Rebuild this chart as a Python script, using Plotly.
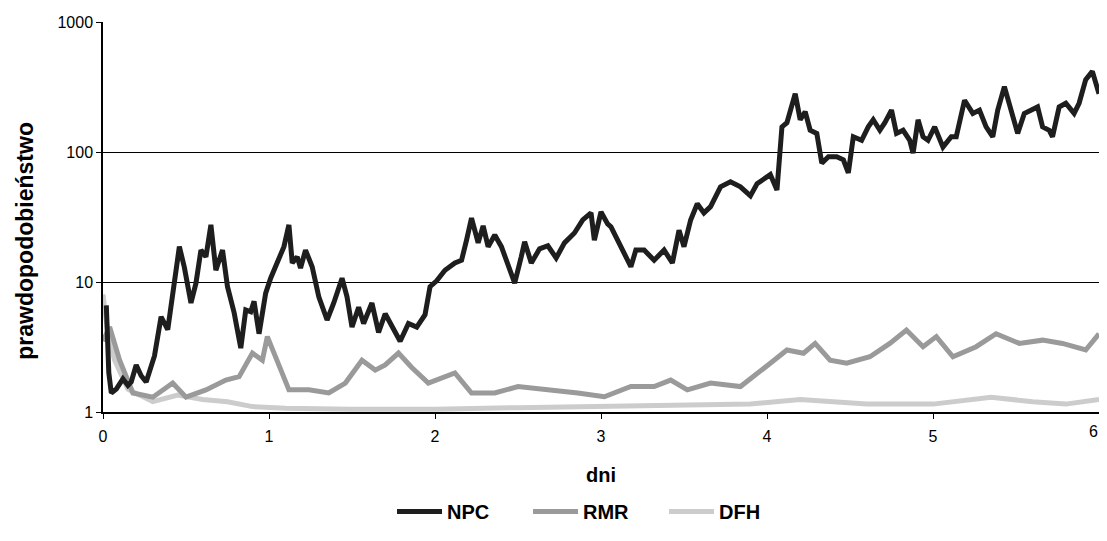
import plotly.graph_objects as go

# ---- data ----
npc_x = [0.02, 0.035, 0.05, 0.08, 0.12, 0.15, 0.17, 0.20, 0.23, 0.26, 0.31, 0.35, 0.39, 0.43, 0.46, 0.49,
         0.53, 0.56, 0.59, 0.62, 0.65, 0.68, 0.72, 0.75, 0.79, 0.83, 0.86, 0.89, 0.91, 0.94, 0.98,
         1.01, 1.06, 1.09, 1.12, 1.14, 1.17, 1.19, 1.22, 1.26, 1.30, 1.35, 1.39, 1.44, 1.47, 1.50,
         1.54, 1.57, 1.62, 1.66, 1.70, 1.75, 1.79, 1.84, 1.89, 1.94, 1.97, 2.01, 2.06, 2.12, 2.16,
         2.19, 2.22, 2.26, 2.29, 2.32, 2.36, 2.40, 2.44, 2.48, 2.52, 2.54, 2.58, 2.63, 2.68, 2.73,
         2.78, 2.84, 2.89, 2.94, 2.96, 3.00, 3.04, 3.06, 3.10, 3.14, 3.18, 3.21, 3.26, 3.32, 3.38,
         3.43, 3.47, 3.50, 3.54, 3.58, 3.62, 3.66, 3.72, 3.78, 3.84, 3.90, 3.94, 4.02, 4.06, 4.09,
         4.12, 4.17, 4.20, 4.23, 4.26, 4.30, 4.33, 4.37, 4.42, 4.46, 4.49, 4.52, 4.57, 4.61, 4.64,
         4.68, 4.71, 4.75, 4.78, 4.82, 4.86, 4.88, 4.91, 4.94, 4.97, 5.01, 5.06, 5.11, 5.14, 5.19,
         5.24, 5.28, 5.32, 5.36, 5.39, 5.43, 5.47, 5.51, 5.55, 5.60, 5.63, 5.66, 5.70, 5.72, 5.76,
         5.80, 5.85, 5.88, 5.92, 5.96, 6.00]
npc_y = [6.6, 2.0, 1.4, 1.5, 1.8, 1.6, 1.7, 2.3, 1.9, 1.7, 2.7, 5.4, 4.3, 9.2, 18.7, 13,
         6.9, 9.8, 17.6, 15.6, 27.5, 12.3, 17.6, 9.2, 5.8, 3.1, 6.1, 5.9, 7.1, 4.0, 8.2,
         10.7, 14.7, 18.7, 27.5, 14, 15.6, 12.8, 17.6, 13.1, 7.7, 5.1, 6.9, 10.7, 7.7, 4.5,
         6.4, 4.8, 6.9, 4.1, 5.7, 4.3, 3.5, 4.8, 4.5, 5.6, 9.2, 10.2, 12.3, 14, 14.7,
         21, 31, 20, 27, 18.7, 23, 18.7, 13.5, 9.8, 15.7, 20.4, 14, 18, 19, 15.3,
         20, 23.8, 30, 34, 21, 34.6, 28, 26.6, 21, 16.7, 13.1, 17.6, 17.6, 14.7, 17.6,
         14, 25, 18.7, 30, 40, 34, 38, 54, 59, 54, 46, 57, 67, 51, 156,
         168, 281, 177, 204, 147, 139, 82, 92, 92, 87, 69, 131, 123, 156, 177,
         147, 168, 210, 139, 147, 123, 98, 177, 131, 123, 156, 109, 131, 131, 250,
         198, 210, 156, 131, 210, 318, 210, 139, 198, 210, 222, 156, 147, 131, 222,
         237, 198, 237, 360, 417, 281]

rmr_x = [0.0, 0.04, 0.10, 0.18, 0.30, 0.42, 0.50, 0.62, 0.74, 0.82, 0.90, 0.96, 0.99, 1.04, 1.12,
         1.24, 1.36, 1.46, 1.56, 1.64, 1.70, 1.78, 1.86, 1.96, 2.12, 2.22, 2.36, 2.50, 2.70, 2.86,
         3.02, 3.18, 3.32, 3.42, 3.52, 3.66, 3.84, 3.92, 4.02, 4.12, 4.22, 4.29, 4.38, 4.48, 4.62,
         4.74, 4.84, 4.94, 5.02, 5.12, 5.26, 5.38, 5.52, 5.66, 5.78, 5.92, 6.00]
rmr_y = [3.5, 4.5, 2.5, 1.4, 1.3, 1.67, 1.3, 1.48, 1.76, 1.87, 2.84, 2.5, 3.8, 2.66, 1.48,
         1.48, 1.4, 1.67, 2.5, 2.1, 2.3, 2.84, 2.2, 1.67, 2.0, 1.4, 1.4, 1.57, 1.48, 1.4,
         1.31, 1.57, 1.57, 1.76, 1.48, 1.67, 1.57, 1.87, 2.37, 3.0, 2.83, 3.37, 2.5, 2.37, 2.66,
         3.37, 4.27, 3.18, 3.8, 2.66, 3.18, 4.0, 3.37, 3.57, 3.37, 3.0, 4.0]

dfh_x = [0.0, 0.03, 0.07, 0.15, 0.30, 0.45, 0.60, 0.75, 0.90, 1.10, 1.50, 2.00, 2.50, 3.00, 3.50,
         3.90, 4.20, 4.60, 5.00, 5.35, 5.60, 5.80, 6.00]
dfh_y = [8.0, 4.0, 2.5, 1.5, 1.2, 1.35, 1.25, 1.2, 1.1, 1.07, 1.05, 1.05, 1.08, 1.1, 1.12,
         1.15, 1.25, 1.15, 1.15, 1.3, 1.2, 1.15, 1.25]

series_names = ["NPC", "RMR", "DFH"]
series_colors = ["#1e1e1e", "#9a9a9a", "#cccccc"]

x_ticks = [0, 1, 2, 3, 4, 5, 6]
y_ticks = [1, 10, 100, 1000]

FONT = "Liberation Sans, Arial, sans-serif"

fig = go.Figure()
# light series first so the dark line sits on top; legend order reversed back
for name, xs, ys, col in reversed(list(zip(series_names, [npc_x, rmr_x, dfh_x],
                                           [npc_y, rmr_y, dfh_y], series_colors))):
    fig.add_trace(go.Scatter(x=xs, y=ys, mode="lines", name=name, cliponaxis=False,
                             line=dict(color=col, width=5)))

annotations = [dict(text="prawdopodobieństwo", textangle=-90, showarrow=False,
                    xref="paper", yref="paper", x=-0.078, y=0.44,
                    xanchor="center", yanchor="middle",
                    font=dict(size=23, family=FONT, weight="bold", color="black"))]
# the last x tick label sits on the page edge; draw it explicitly, kept inside the page
annotations.append(dict(text=str(x_ticks[-1]), showarrow=False, xref="x", yref="paper",
                        x=x_ticks[-1], y=0, yanchor="top", xanchor="right", xshift=1, yshift=-9,
                        font=dict(size=16, family=FONT, color="black")))

fig.update_layout(
    width=1091, height=525,
    margin=dict(l=95, r=0, t=14, b=121),
    paper_bgcolor="white", plot_bgcolor="white",
    font=dict(family=FONT, color="black"),
    showlegend=True,
    legend=dict(orientation="h", x=0.495, xanchor="center", y=-0.305, yanchor="bottom",
                font=dict(size=20, family=FONT, weight="bold"), traceorder="reversed",
                itemwidth=45, entrywidth=76, entrywidthmode="pixels"),
    annotations=annotations,
)
fig.update_xaxes(
    range=[0, 6], tickvals=x_ticks[:-1], ticktext=[str(v) for v in x_ticks[:-1]], automargin=False,
    ticklabelstandoff=4,
    showgrid=False, zeroline=False, showline=True, linecolor="black", linewidth=1.5,
    ticks="outside", ticklen=5, tickcolor="black", tickfont=dict(size=16, family=FONT),
    title=dict(text="dni", font=dict(size=20, family=FONT, weight="bold"), standoff=24),
)
fig.update_yaxes(
    type="log", range=[0, 3], tickvals=y_ticks, ticktext=[str(v) for v in y_ticks], automargin=False,
    showgrid=True, gridcolor="black", gridwidth=1, zeroline=False,
    showline=True, linecolor="black", linewidth=1.5,
    ticks="outside", ticklen=5, tickcolor="black", tickfont=dict(size=16, family=FONT),
)

fig.write_html("out.html")
